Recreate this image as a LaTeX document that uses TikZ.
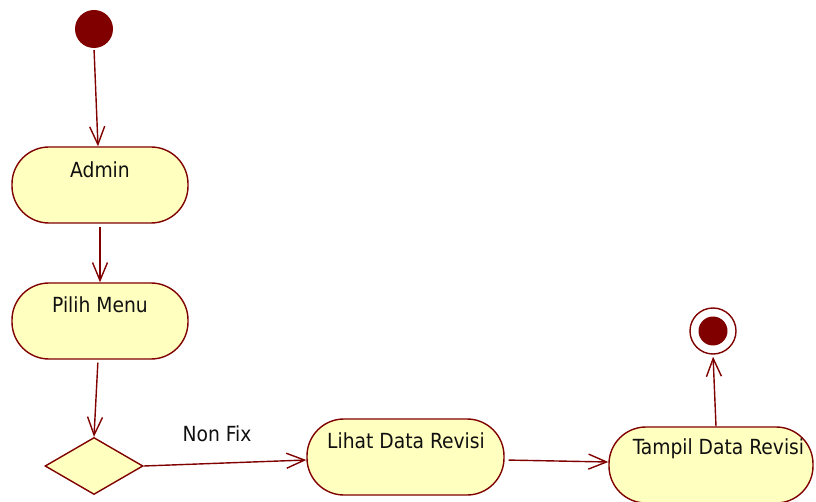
\documentclass[tikz,border=0pt]{standalone}
\usepackage{fontspec}
\setmainfont{DejaVu Sans Condensed}
\usetikzlibrary{shapes.geometric,arrows.meta}
\definecolor{umlline}{HTML}{800000}
\definecolor{umlfill}{HTML}{FFFFC0}
\definecolor{umltext}{HTML}{101010}
\begin{document}
\begin{tikzpicture}[x=1pt,y=-1pt,
  every node/.style={font=\fontsize{20.8}{24}\selectfont, text=umltext},
  action/.style={draw=umlline, fill=umlfill, line width=1.4pt, rounded corners=37pt,
    minimum height=76pt, inner sep=0pt},
  decision/.style={diamond, draw=umlline, fill=umlfill, line width=1.4pt, inner sep=0pt,
    minimum width=98pt, minimum height=57pt, aspect=1.7},
  flow/.style={draw=umlline, line width=1.4pt, -{Straight Barb[length=18pt,width=15pt,line width=1.4pt]}},
  caption/.style={anchor=center}]
\useasboundingbox (0,0) rectangle (816,502);

% initial and final states
\node[circle, fill=umlline, minimum size=38pt, inner sep=0pt] (start) at (94,29) {};
\node[circle, draw=umlline, fill=white, line width=1.4pt, minimum size=46pt, inner sep=0pt] (finish) at (713,331) {};
\node[circle, fill=umlline, minimum size=29pt, inner sep=0pt] (finishdot) at (713,331) {};

% actions
\node[action, minimum width=176pt] (admin) at (100,185) {};
\node[caption] (admintxt) at (100,170) {Admin};
\node[action, minimum width=176pt] (pilih) at (100,321) {};
\node[caption] (pilihtxt) at (100,305) {Pilih Menu};
\node[decision] (dec) at (94,466) {};
\node[action, minimum width=197pt] (lihat) at (405.5,457) {};
\node[caption] (lihattxt) at (406,441) {Lihat Data Revisi};
\node[action, minimum width=204pt] (tampil) at (711,465) {};
\node[caption] (tampiltxt) at (718.5,449) {Tampil Data Revisi};

% guard label
\node[caption] (guard) at (217,434) {Non Fix};

% control flows
\draw[flow, shorten <=2pt] (start.south) -- ([xshift=-2pt]admin.north);
\draw[flow, shorten <=3pt] (admin.south) -- (pilih.north);
\draw[flow, shorten <=3pt] ([xshift=-2pt]pilih.south) -- (dec.north);
\draw[flow] (dec.east) -- ([yshift=-3pt]lihat.west);
\draw[flow, shorten <=4pt] ([yshift=-3pt]lihat.east) -- ([yshift=3pt]tampil.west);
\draw[flow, shorten >=2pt] ([xshift=5pt]tampil.north) -- (finish.south);
\end{tikzpicture}
\end{document}
